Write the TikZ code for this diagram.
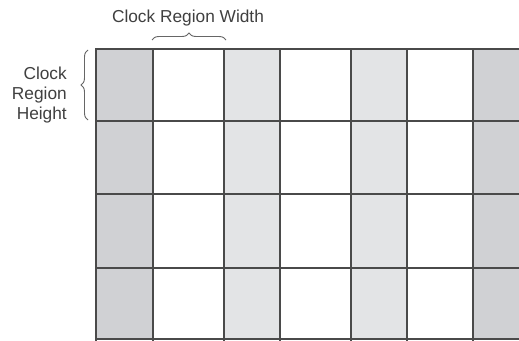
\documentclass[tikz,border=0pt]{standalone}
\usepackage{fontspec}
\setmainfont{Liberation Sans}
\usetikzlibrary{positioning,decorations.pathreplacing}
\definecolor{darkcol}{HTML}{D0D1D4}
\definecolor{lightcol}{HTML}{E3E4E6}
\definecolor{gridline}{HTML}{4A4A4A}
\begin{document}
\begin{tikzpicture}[
  x=1pt, y=-1pt,
  font=\fontsize{17.3}{20}\selectfont,
  gridln/.style={draw=gridline, line width=2.4pt},
  bracket/.style={draw=black!60, line width=0.9pt, decorate, decoration={brace, amplitude=7pt}},
  label/.style={text=black!75, inner sep=0pt, align=right}
]
\clip (0,0) rectangle (519,340);
\fill[white] (0,0) rectangle (519,340);
\fill[darkcol] (96,49) rectangle (153,340);
\fill[lightcol] (224,49) rectangle (280,340);
\fill[lightcol] (351,49) rectangle (407,340);
\fill[darkcol] (473,49) rectangle (530,340);
\foreach \gx in {96,153,224,280,351,407,473}
  \draw[gridln] (\gx,48) -- (\gx,341);
\foreach \gy in {49,121,194,268,339}
  \draw[gridln] (95,\gy) -- (530,\gy);
\coordinate (wleft) at (152,40);
\coordinate (wright) at (226,40);
\coordinate (hbot) at (88,120);
\coordinate (htop) at (88,50);
\draw[bracket] (wleft) -- (wright);
\draw[bracket] (hbot) -- (htop);
\node[label, anchor=center] (width) at (188,18) {Clock Region Width};
\node[label, anchor=east] (height) at (67,95) {Clock\\Region\\Height};
\end{tikzpicture}
\end{document}
